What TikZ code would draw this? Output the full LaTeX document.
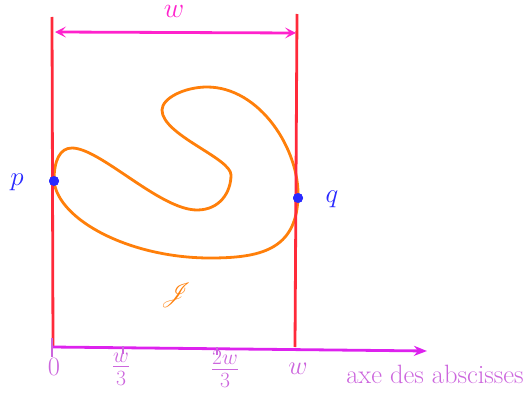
\RequirePackage{fix-cm}
\documentclass[tikz,border=0pt]{standalone}
\usepackage{mathrsfs}
\usetikzlibrary{arrows.meta}
\definecolor{redl}{HTML}{FF2A3A}
\definecolor{orng}{HTML}{FF7F0A}
\definecolor{mag}{HTML}{FF22CC}
\definecolor{axc}{HTML}{DD22EE}
\definecolor{lblc}{HTML}{CC66DD}
\definecolor{bluep}{HTML}{2A2AFF}
\begin{document}
\begin{tikzpicture}[x=1pt,y=-1pt,
  redline/.style={draw=redl,line width=2.8pt},
  curve/.style={draw=orng,line width=2.8pt,line join=round},
  dimarrow/.style={draw=mag,line width=2.8pt,{Stealth[length=11pt,width=11pt,inset=5pt]}-{Stealth[length=11pt,width=11pt,inset=5pt]}},
  axis/.style={draw=axc,line width=2.8pt,-{Stealth[length=13pt,width=10pt,inset=4pt]}},
  tick/.style={draw=lblc,line width=2.8pt},
  lbl/.style={text=lblc,font=\fontsize{26.5}{30}\selectfont,inner sep=0pt},
  fraclbl/.style={text=lblc,font=\fontsize{31}{36}\selectfont,inner sep=0pt},
  ptlbl/.style={text=bluep,font=\fontsize{27}{31}\selectfont,inner sep=0pt},
  dot/.style={circle,fill=bluep,inner sep=0pt,minimum size=10pt}]
\useasboundingbox (0,0) rectangle (528,396);
% points on the curve
\coordinate (c1) at (72,148);
\coordinate (c2) at (197,210);
\coordinate (c3) at (231,175);
\coordinate (c4) at (162,110);
\coordinate (c5) at (207,87);
\coordinate (c6) at (210,258);
\node[dot] (P) at (54,181) {};
\node[dot] (Q) at (298,198) {};
% curve
\draw[curve] (P.center) .. controls (54,160) and (60,148) .. (c1)
  .. controls (100,148) and (160,210) .. (c2)
  .. controls (220,210) and (231,192) .. (c3)
  .. controls (231,158) and (162,135) .. (c4)
  .. controls (162,98) and (185,87) .. (c5)
  .. controls (260,87) and (300,150) .. (Q.center)
  .. controls (296,250) and (260,258) .. (c6)
  .. controls (130,258) and (58,220) .. (P.center) -- cycle;
\node[text=orng,font=\fontsize{28}{32}\selectfont,inner sep=0pt] (J) at (176,295) {$\mathscr{J}$};
% vertical lines
\coordinate (LT) at (52,17);
\coordinate (LB) at (53,347);
\coordinate (RT) at (297,14);
\coordinate (RB) at (295,347);
\draw[redline] (LT) -- (LB);
\draw[redline] (RT) -- (RB);
% redraw dots on top
\node[dot] at (P) {};
\node[dot] at (Q) {};
% width arrow
\coordinate (A1) at (55,32);
\coordinate (A2) at (296,33);
\draw[dimarrow] (A1) -- (A2);
\node[text=mag,font=\fontsize{28}{32}\selectfont,inner sep=0pt] (wtop) at (174,11) {$w$};
% point labels
\node[ptlbl] (pl) at (17,182) {$p$};
\node[ptlbl] (ql) at (332,199) {$q$};
% axis
\coordinate (O) at (52,347);
\coordinate (X) at (427,351);
\draw[axis] (O) -- (X);
\coordinate (T0a) at (52,338); \coordinate (T0b) at (52,357);
\coordinate (T1a) at (123,346); \coordinate (T1b) at (123,354);
\coordinate (T2a) at (217,347); \coordinate (T2b) at (217,355);
\draw[tick] (T0a) -- (T0b);
\draw[tick] (T1a) -- (T1b);
\draw[tick] (T2a) -- (T2b);
\node[lbl] (l0) at (54,367) {$0$};
\node[fraclbl] (l1) at (121,369) {$\frac{w}{3}$};
\node[fraclbl] (l2) at (225,369) {$\frac{2w}{3}$};
\node[lbl] (l3) at (298,369) {$w$};
\node[lbl] (lx) at (435,374) {axe des abscisses};
\end{tikzpicture}
\end{document}
